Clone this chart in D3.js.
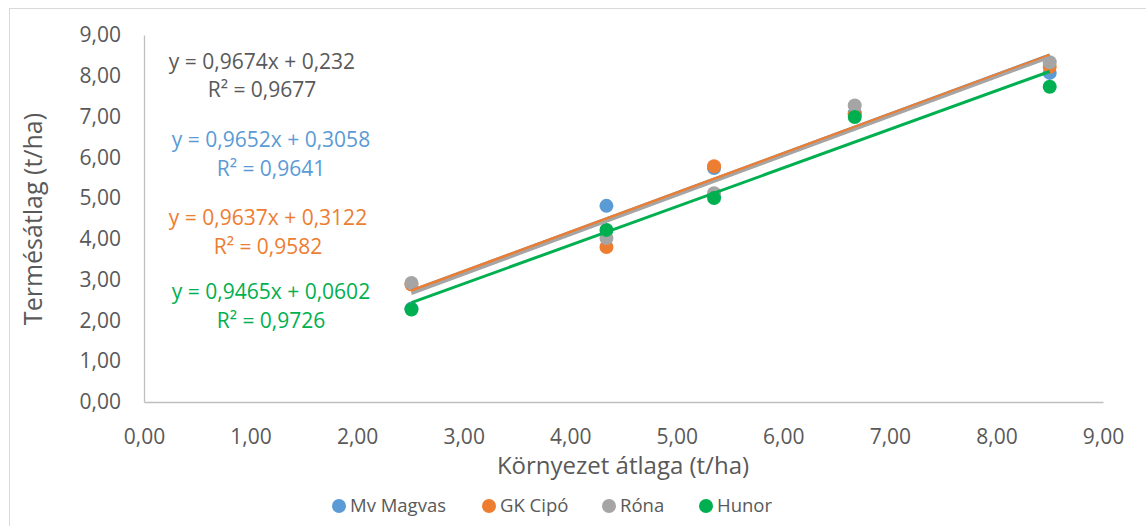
<!DOCTYPE html>
<html><head><meta charset="utf-8">
<script src="https://cdn.jsdelivr.net/npm/d3@7"></script>
<style>body{margin:0;background:#fff}svg{display:block}</style>
</head><body><svg id="c" width="1146" height="526"></svg>
<script>
const xValues = [2.51, 4.34, 5.35, 6.67, 8.50];
const seriesNames = ["Mv Magvas", "GK Cipó", "Róna", "Hunor"];
const magvas = [2.29, 4.81, 5.74, 7.08, 8.07];
const cipo = [2.88, 3.80, 5.78, 7.05, 8.22];
const rona = [2.92, 4.02, 5.12, 7.27, 8.33];
const hunor = [2.27, 4.22, 5.00, 6.99, 7.73];
const slopes = [0.9652, 0.9637, 0.9674, 0.9465];
const intercepts = [0.3058, 0.3122, 0.232, 0.0602];
const eqLines = ["y = 0,9674x + 0,232", "y = 0,9652x + 0,3058", "y = 0,9637x + 0,3122", "y = 0,9465x + 0,0602"];
const r2Lines = ["R² = 0,9677", "R² = 0,9641", "R² = 0,9582", "R² = 0,9726"];
const xTicks = [0,1,2,3,4,5,6,7,8,9];
const yTicks = [0,1,2,3,4,5,6,7,8,9];

const colors = ["#5B9BD5", "#ED7D31", "#A5A5A5", "#00B050"];
const labelColors = ["#595959", "#5B9BD5", "#ED7D31", "#00B050"];
const FONT = "'Open Sans', sans-serif";
const values = [magvas, cipo, rona, hunor];

const svg = d3.select("#c");
svg.append("rect").attr("width",1146).attr("height",526).attr("fill","#fff");
svg.append("rect").attr("x",9.5).attr("y",8.5).attr("width",1150).attr("height",530)
  .attr("fill","none").attr("stroke","#d9d9d9");

const x = d3.scaleLinear().domain([0,9]).range([144,1103]);
const y = d3.scaleLinear().domain([0,9]).range([402,35]);
const fmt = d => d3.format(".2f")(d).replace(".", ",");

const xa = svg.append("g").attr("transform","translate(0,402)")
  .call(d3.axisBottom(x).tickValues(xTicks).tickFormat(fmt).tickSize(0).tickPadding(27));
const ya = svg.append("g").attr("transform","translate(144,0)")
  .call(d3.axisLeft(y).tickValues(yTicks).tickFormat(fmt).tickSize(0).tickPadding(23));
[xa, ya].forEach(a => {
  a.select(".domain").attr("stroke","#bfbfbf").attr("stroke-width",1.3);
  a.selectAll("text").attr("fill","#595959").style("font-family",FONT).style("font-size","21px");
});

// markers
values.forEach((vals, i) => {
  svg.append("g").selectAll("circle").data(vals).join("circle")
    .attr("cx",(d,j)=>x(xValues[j])).attr("cy",d=>y(d)).attr("r",7).attr("fill",colors[i]);
});
// trendlines
const xmin = d3.min(xValues), xmax = d3.max(xValues);
slopes.forEach((s, i) => {
  svg.append("line")
    .attr("x1",x(xmin)).attr("y1",y(s*xmin+intercepts[i]))
    .attr("x2",x(xmax)).attr("y2",y(s*xmax+intercepts[i]))
    .attr("stroke",colors[i]).attr("stroke-width",3);
});

// equation labels
const labelPos = [[262,62,90],[271,140,169],[268,218,247],[271,292,321]];
labelPos.forEach((p, i) => {
  const g = svg.append("g").attr("fill",labelColors[i]).style("font-family",FONT).style("font-size","21px")
    .attr("text-anchor","middle");
  g.append("text").attr("x",p[0]).attr("y",p[1]).attr("dy","0.35em").text(eqLines[i]);
  g.append("text").attr("x",p[0]).attr("y",p[2]).attr("dy","0.35em").text(r2Lines[i]);
});

// axis titles
svg.append("text").attr("x",623).attr("y",466).attr("dy","0.35em").attr("text-anchor","middle")
  .attr("fill","#595959").style("font-family",FONT).style("font-size","24px").text("Környezet átlaga (t/ha)");
svg.append("text").attr("transform","translate(33,219) rotate(-90)").attr("dy","0.35em").attr("text-anchor","middle")
  .attr("fill","#595959").style("font-family",FONT).style("font-size","25px").text("Termésátlag (t/ha)");

// legend
const legX = [339, 489, 609, 706];
const leg = svg.append("g");
seriesNames.forEach((n, i) => {
  leg.append("circle").attr("cx",legX[i]).attr("cy",506).attr("r",7).attr("fill",colors[i]);
  leg.append("text").attr("x",legX[i]+11).attr("y",506).attr("dy","0.35em")
    .attr("fill","#595959").style("font-family",FONT).style("font-size","18.5px").text(n);
});
</script></body></html>
